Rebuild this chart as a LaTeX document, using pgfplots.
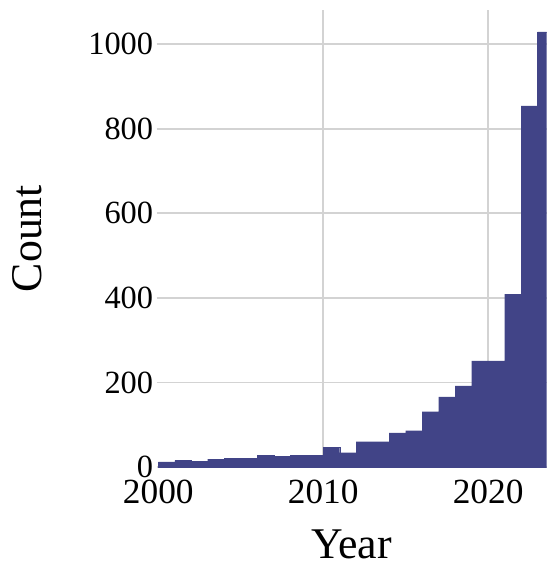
\documentclass[border=0pt]{standalone}
\usepackage{pgfplots}
\pgfplotsset{compat=1.18}
\usepackage{fontspec}
\setmainfont{Liberation Serif}

\definecolor{barcol}{HTML}{414487}
\definecolor{gridcol}{HTML}{D3D3D3}

\begin{document}
\begin{tikzpicture}
\useasboundingbox (-156.7bp,-97bp) rectangle (390.3bp,467.3bp);
\begin{axis}[
  scale only axis,
  width=390.3bp, height=457.3bp,
  xmin=1999.9, xmax=2023.55,
  ymin=0, ymax=1081,
  xtick={2000,2010,2020},
  ytick={0,200,400,600,800,1000},
  extra x ticks={2010,2020},
  extra x tick labels={},
  extra x tick style={xmajorgrids=true},
  xmajorgrids=false, ymajorgrids=true,
  grid style={gridcol, line width=1.8bp},
  axis line style={draw=none},
  major tick length=0pt,
  /pgf/number format/assume math mode=true,
  /pgf/number format/1000 sep={},
  yticklabel style={font=\fontsize{32.5}{38}\selectfont},
  xticklabel style={font=\fontsize{35.5}{42}\selectfont, anchor=base, yshift=-36bp},
  xlabel={Year},
  ylabel={Count},
  label style={font=\fontsize{44}{50}\selectfont},
  xlabel style={anchor=base, at={(axis description cs:0.5,-0.199)}},
  ylabel style={anchor=base, at={(axis description cs:-0.294,0.5)}},
]
\addplot[ybar interval, fill=barcol, draw=barcol, line width=0.3bp]
  coordinates{
    (2000,12) (2001,16) (2002,14) (2003,19) (2004,21)
    (2005,20) (2006,28) (2007,26) (2008,28) (2009,27)
    (2010,46) (2011,34) (2012,60) (2013,60) (2014,81)
    (2015,86) (2016,131) (2017,166) (2018,192) (2019,251)
    (2020,251) (2021,409) (2022,854) (2023,1029) (2024,1029)
  };
\end{axis}
\end{tikzpicture}
\end{document}
